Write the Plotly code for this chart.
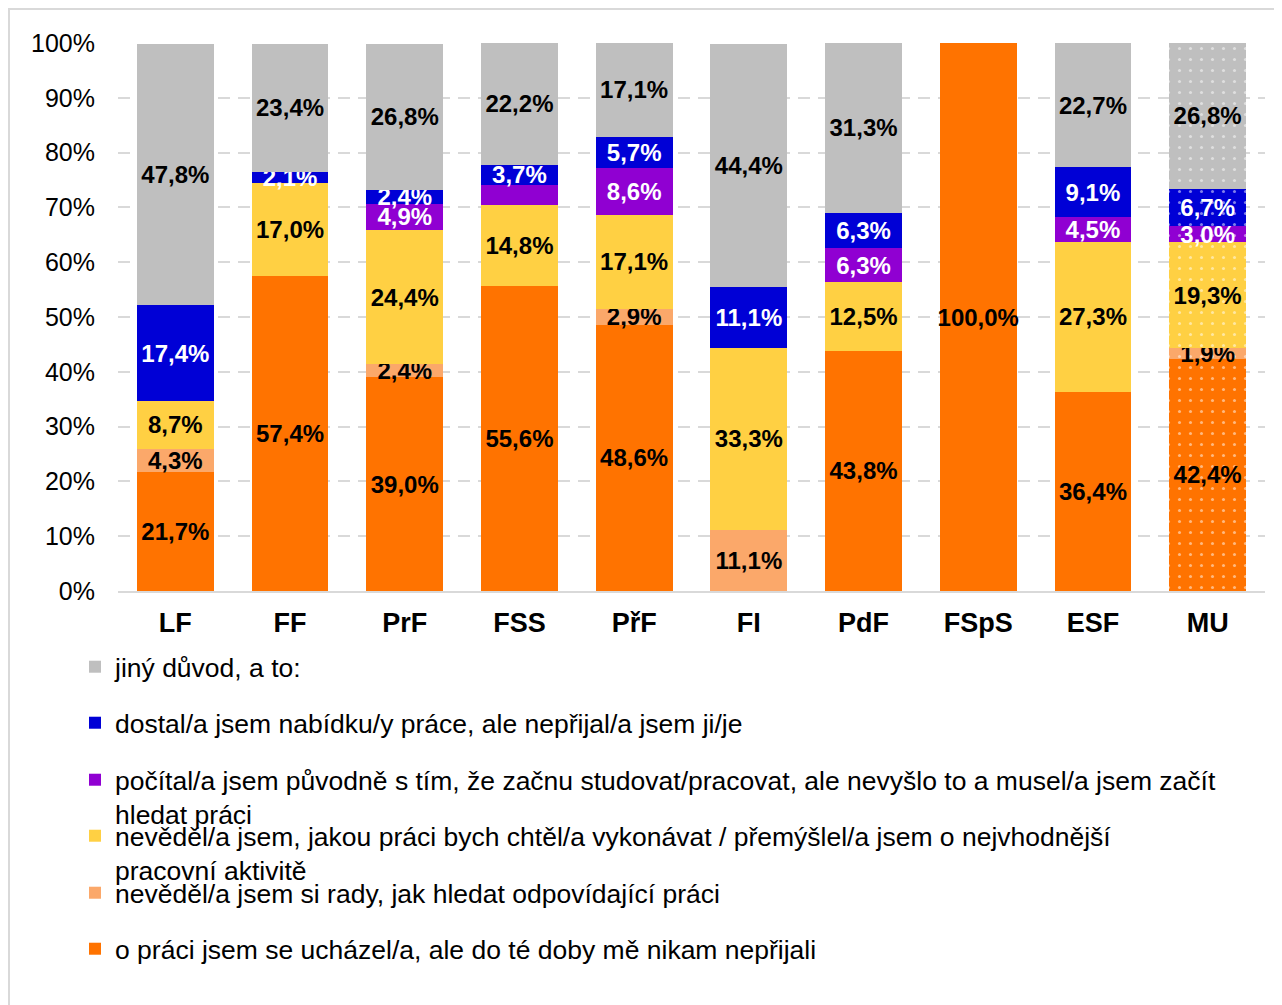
import plotly.graph_objects as go

categories = ["LF", "FF", "PrF", "FSS", "PřF", "FI", "PdF", "FSpS", "ESF", "MU"]

names = [
    "o práci jsem se ucházel/a, ale do té doby mě nikam nepřijali",
    "nevěděl/a jsem si rady, jak hledat odpovídající práci",
    "nevěděl/a jsem, jakou práci bych chtěl/a vykonávat / přemýšlel/a jsem o nejvhodnější<br>pracovní aktivitě",
    "počítal/a jsem původně s tím, že začnu studovat/pracovat, ale nevyšlo to a musel/a jsem začít<br>hledat práci",
    "dostal/a jsem nabídku/y práce, ale nepřijal/a jsem ji/je",
    "jiný důvod, a to:",
]

s_orange = [21.7, 57.4, 39.0, 55.6, 48.6, None, 43.8, 100.0, 36.4, 42.4]
s_lightorange = [4.3, None, 2.4, None, 2.9, 11.1, None, None, None, 1.9]
s_yellow = [8.7, 17.0, 24.4, 14.8, 17.1, 33.3, 12.5, None, 27.3, 19.3]
s_purple = [None, None, 4.9, 3.7, 8.6, None, 6.3, None, 4.5, 3.0]
s_blue = [17.4, 2.1, 2.4, 3.7, 5.7, 11.1, 6.3, None, 9.1, 6.7]
s_gray = [47.8, 23.4, 26.8, 22.2, 17.1, 44.4, 31.3, None, 22.7, 26.8]

y_ticks = [0, 10, 20, 30, 40, 50, 60, 70, 80, 90, 100]
y_ticktext = ["0%", "10%", "20%", "30%", "40%", "50%", "60%", "70%", "80%", "90%", "100%"]

series = [s_orange, s_lightorange, s_yellow, s_purple, s_blue, s_gray]
colors = ["#FF7300", "#FBA86A", "#FFD043", "#9000D2", "#0000D6", "#BFBFBF"]
text_colors = ["black", "black", "black", "white", "white", "black"]
# (series index, category) labels not shown in the original
hidden_labels = {(3, "FSS")}
# page-pixel rows (first text line centre) of legend entries
legend_rows = [950, 894, 837, 781, 724, 668]

OFF = 8  # page offset of the figure
W, H = 1282 - OFF, 1005 - OFF
L, R, T, B = 118 - OFF, 17, 43 - OFF, 414
ph = H - T - B
pw = W - L - R


def py2paper(py):
    return (H - B - (py - OFF)) / ph


def px2paper(px):
    return ((px - OFF) - L) / pw


fig = go.Figure()
patterns = ["" if c != "MU" else "." for c in categories]

for i, (nm, vals, col, tc) in enumerate(zip(names, series, colors, text_colors)):
    txt = []
    for c, v in zip(categories, vals):
        if v is None or (i, c) in hidden_labels:
            txt.append("")
        else:
            txt.append(f"{v:.1f}%".replace(".", ","))
    fig.add_trace(go.Bar(
        x=categories, y=vals, name=nm,
        marker=dict(color=col, line=dict(width=0),
                    pattern=dict(shape=patterns, fgcolor="white", bgcolor=col, size=11,
                                 solidity=0.06, fillmode="overlay")),
        text=txt, textposition="inside", insidetextanchor="middle", textangle=0,
        textfont=dict(color=tc, size=24, family="Liberation Sans, Arial", weight="bold"),
        legend="legend" if i == 0 else f"legend{i+1}",
        hoverinfo="skip",
    ))

legend_layout = {}
for i in range(6):
    key = "legend" if i == 0 else f"legend{i+1}"
    legend_layout[key] = dict(
        x=px2paper(75), xanchor="left",
        y=py2paper(legend_rows[i] - 25), yanchor="top",
        font=dict(size=26.5, family="Liberation Sans, Arial", color="black"),
        bgcolor="rgba(0,0,0,0)", valign="top", borderwidth=0,
    )

fig.update_layout(
    width=W, height=H,
    margin=dict(l=L, r=R, t=T, b=B),
    barmode="stack", bargap=0.33,
    paper_bgcolor="white", plot_bgcolor="white",
    separators=", ",
    uniformtext=dict(minsize=24, mode="show"),
    font=dict(family="Liberation Sans, Arial", color="black"),
    showlegend=True,
    **legend_layout,
    xaxis=dict(
        showgrid=False, showline=True, linecolor="#D9D9D9", linewidth=2,
        tickfont=dict(size=27, weight="bold", color="black"), ticks="",
        ticklabelstandoff=7,
    ),
    yaxis=dict(
        range=[0, 100], tickmode="array", tickvals=y_ticks, ticktext=y_ticktext,
        showgrid=True, gridcolor="#D9D9D9", gridwidth=2, griddash="12px,8px",
        zeroline=False, showline=False, ticks="",
        tickfont=dict(size=25, color="black"), ticklabelstandoff=22,
    ),
    shapes=[dict(type="rect", xref="paper", yref="paper",
                 x0=px2paper(9), x1=px2paper(1300), y0=py2paper(1020), y1=py2paper(9),
                 line=dict(color="#D9D9D9", width=2), layer="below")],
)

fig.write_html("out.html")
